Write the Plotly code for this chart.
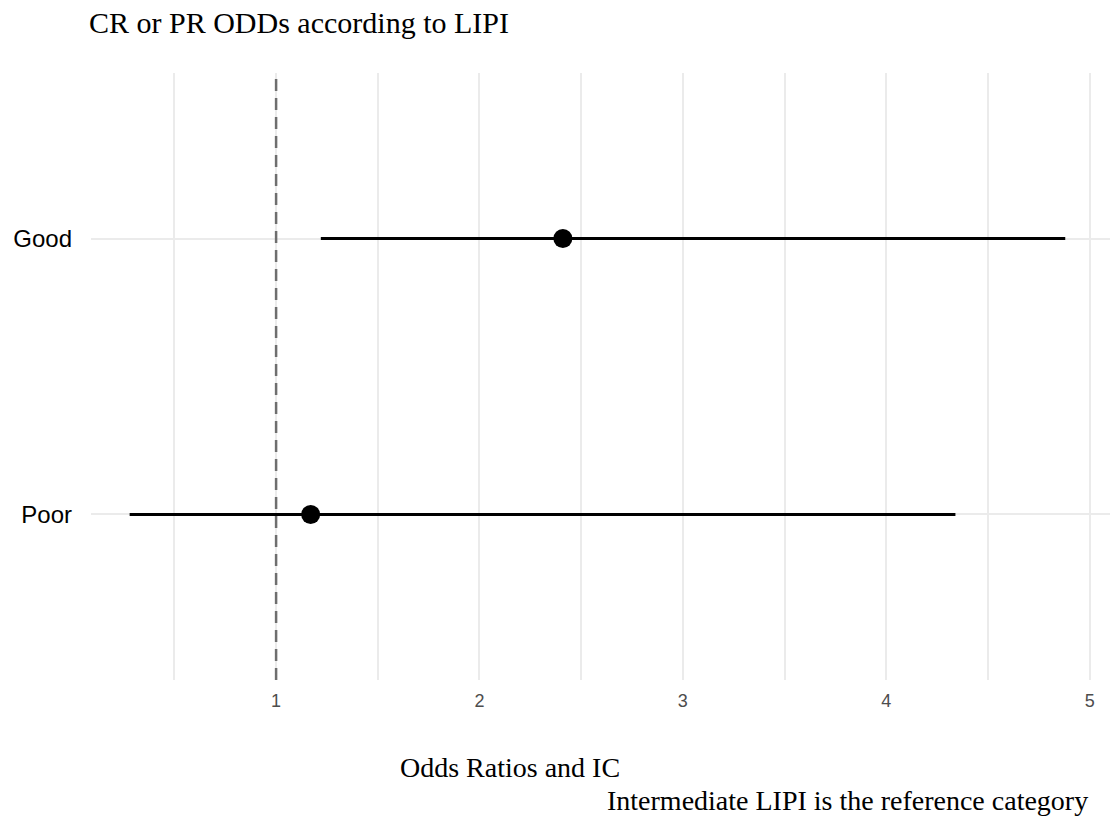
import plotly.graph_objects as go

# Odds ratios with confidence intervals by LIPI group
groups = ["Poor", "Good"]
odds_ratio = [1.17, 2.41]
ci_low = [0.28, 1.22]
ci_high = [4.34, 4.88]

x_ticks = [1, 2, 3, 4, 5]
x_tick_text = ["1", "2", "3", "4", "5"]

title_text = "CR or PR ODDs according to LIPI"
x_title_text = "Odds Ratios and IC"
caption_text = "Intermediate LIPI is the reference category"

serif = "Liberation Serif, Times New Roman, serif"
sans = "Liberation Sans, Arial, sans-serif"

fig = go.Figure()

# Confidence interval segments
for g, lo, hi in zip(groups, ci_low, ci_high):
    fig.add_trace(go.Scatter(
        x=[lo, hi], y=[g, g], mode="lines",
        line=dict(color="black", width=3),
        hoverinfo="skip", showlegend=False,
    ))

# Point estimates
fig.add_trace(go.Scatter(
    x=odds_ratio, y=groups, mode="markers",
    marker=dict(color="black", size=19),
    showlegend=False,
))

# Reference line at OR = 1
fig.add_shape(
    type="line", xref="x", yref="paper",
    x0=1, x1=1, y0=0, y1=1,
    line=dict(color="#6e6e6e", width=2.5, dash="12px,7px"),
    layer="above",
)

W, H = 1110, 817
L, R, T, B = 91, 0, 73, 137
pw, ph = W - L - R, H - T - B


def px(x):
    return (x - L) / pw


def py(y):
    return (H - B - y) / ph


fig.add_annotation(
    text=title_text, xref="paper", yref="paper",
    x=px(87), y=py(22), xanchor="left", yanchor="middle",
    showarrow=False, font=dict(family=serif, size=30, color="black"),
)
fig.add_annotation(
    text=x_title_text, xref="paper", yref="paper",
    x=px(398), y=py(767), xanchor="left", yanchor="middle",
    showarrow=False, font=dict(family=serif, size=28, color="black"),
)
fig.add_annotation(
    text=caption_text, xref="paper", yref="paper",
    x=px(1090), y=py(800), xanchor="right", yanchor="middle",
    showarrow=False, font=dict(family=serif, size=28, color="black"),
)

fig.update_layout(
    width=W, height=H,
    margin=dict(l=L, r=R, t=T, b=B),
    paper_bgcolor="white", plot_bgcolor="white",
    xaxis=dict(
        range=[0.09, 5.10],
        tickvals=x_ticks, ticktext=x_tick_text,
        showgrid=True, gridcolor="#ebebeb", gridwidth=2,
        minor=dict(dtick=0.5, tick0=0, showgrid=True,
                   gridcolor="#ebebeb", gridwidth=2),
        zeroline=False, showline=False, ticks="",
        ticklabelstandoff=8,
        tickfont=dict(family=sans, size=18, color="#4d4d4d"),
    ),
    yaxis=dict(
        type="category", categoryorder="array", categoryarray=groups,
        range=[-0.6, 1.6],
        showgrid=True, gridcolor="#ebebeb", gridwidth=2,
        zeroline=False, showline=False, ticks="",
        ticklabelstandoff=18,
        tickfont=dict(family=sans, size=24, color="black"),
    ),
)

fig.write_html("out.html")
